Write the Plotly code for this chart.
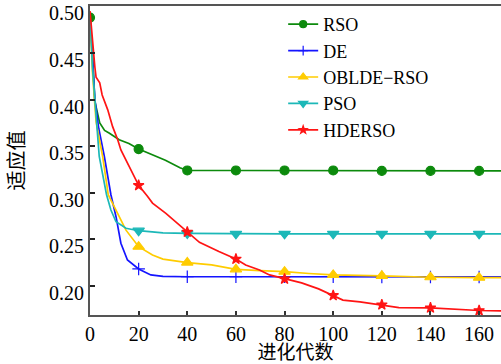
import numpy as np
import plotly.graph_objects as go

# ---- data ----
rso_x = [0, 1, 2, 4, 6, 8, 12, 16, 20, 26, 31, 37, 40, 60, 80, 100, 120, 140, 160, 169]
rso_y = [0.488, 0.45, 0.398, 0.375, 0.367, 0.364, 0.357, 0.353, 0.347, 0.340, 0.335, 0.327,
         0.324, 0.324, 0.324, 0.324, 0.3235, 0.3235, 0.3235, 0.3235]

de_x = [0, 1, 2, 3.6, 5.9, 8.6, 10.7, 12.7, 15.4, 20, 25, 30, 40, 60, 80, 100, 120, 140, 160, 169]
de_y = [0.49, 0.44, 0.40, 0.369, 0.339, 0.298, 0.2744, 0.246, 0.228, 0.2184, 0.212, 0.2105,
        0.210, 0.210, 0.210, 0.210, 0.2098, 0.2098, 0.2098, 0.2098]

obl_x = [0, 1, 2.5, 5.2, 7.5, 10.7, 14.8, 20, 25.7, 30, 40, 50, 60, 70, 80, 90, 100, 120, 140, 160, 169]
obl_y = [0.49, 0.43, 0.376, 0.339, 0.298, 0.2816, 0.260, 0.2423, 0.2334, 0.229, 0.2252, 0.2228,
         0.218, 0.2166, 0.2155, 0.2135, 0.212, 0.211, 0.2095, 0.209, 0.209]

pso_x = [0, 1, 2, 3.8, 6.8, 8.6, 10.7, 14.8, 20, 30, 40, 60, 80, 100, 120, 140, 160, 169]
pso_y = [0.49, 0.435, 0.40, 0.339, 0.298, 0.2816, 0.269, 0.262, 0.2594, 0.257, 0.2565,
         0.256, 0.256, 0.256, 0.256, 0.256, 0.256, 0.256]

hde_x = [0, 1, 2, 2.5, 4, 5, 7.3, 9.3, 11.4, 12.7, 16.2, 20, 23.7, 25.7, 31.2, 35.3, 40, 45, 53,
         60, 64, 69.7, 73.8, 80, 87, 94, 100, 104, 111, 120, 127, 140, 160, 169]
hde_y = [0.495, 0.46, 0.435, 0.424, 0.418, 0.405, 0.389, 0.371, 0.357, 0.346, 0.328, 0.308,
         0.296, 0.289, 0.278, 0.269, 0.258, 0.247, 0.237, 0.229, 0.2227, 0.2173, 0.212, 0.2077,
         0.2034, 0.197, 0.190, 0.185, 0.183, 0.180, 0.177, 0.1767, 0.1738, 0.1735]

x_ticks = [0, 20, 40, 60, 80, 100, 120, 140, 160]
y_ticks = [0.20, 0.25, 0.30, 0.35, 0.40, 0.45, 0.50]
marker_x = [20, 40, 60, 80, 100, 120, 140, 160]
rso_marker_x = [0] + marker_x

names = ["RSO", "DE", "OBLDE\u2212RSO", "PSO", "HDERSO"]
colors = ["#0c8a0c", "#1414ff", "#ffcc00", "#1cb8b8", "#ff1414"]
symbols = ["circle", "cross-thin", "triangle-up", "triangle-down", "star"]
msizes = [9, 9, 10, 10, 8]

series = [
    (rso_x, rso_y, rso_marker_x),
    (de_x, de_y, marker_x),
    (obl_x, obl_y, marker_x),
    (pso_x, pso_y, marker_x),
    (hde_x, hde_y, marker_x),
]

fig = go.Figure()
for (xs, ys, mx), name, c, sym, ms in zip(series, names, colors, symbols, msizes):
    fig.add_trace(go.Scatter(x=xs, y=ys, mode="lines", line=dict(color=c, width=1.7),
                             showlegend=False, hoverinfo="skip"))
    my = np.interp(mx, xs, ys)
    fig.add_trace(go.Scatter(x=mx, y=my, mode="markers", showlegend=False,
                             marker=dict(symbol=sym, size=ms, color=c,
                                         line=dict(color=c, width=1.2))))
    fig.add_trace(go.Scatter(x=[None], y=[None], mode="lines+markers", name=name,
                             line=dict(color=c, width=1.7),
                             marker=dict(symbol=sym, size=ms - 2, color=c,
                                         line=dict(color=c, width=1.2))))

serif = "Liberation Serif"
cjk = "Noto Sans CJK SC"
fig.update_layout(
    width=501, height=364,
    margin=dict(l=90, r=0, t=6, b=49, autoexpand=False),
    paper_bgcolor="white", plot_bgcolor="white",
    font=dict(family=serif, size=20, color="black"),
    legend=dict(x=0.47, y=1.0, xanchor="left", yanchor="top",
                bgcolor="rgba(0,0,0,0)", font=dict(size=18, family=serif),
                tracegroupgap=0),
    showlegend=True,
)
fig.update_xaxes(range=[0, 169], tickvals=x_ticks, automargin=False,
                 tickfont=dict(family=serif, size=20),
                 ticks="inside", ticklen=4, tickwidth=1.5, tickcolor="#333",
                 showline=True, linecolor="#555", linewidth=2, mirror=True,
                 showgrid=False, zeroline=False,
                 title=dict(text="进化代数", font=dict(size=19, family=cjk), standoff=4))
fig.update_yaxes(range=[0.169, 0.5004], tickvals=y_ticks, automargin=False,
                 tickformat=".2f", tickfont=dict(family=serif, size=20),
                 ticks="inside", ticklen=5, tickwidth=2, tickcolor="#222",
                 showline=True, linecolor="#555", linewidth=2, mirror=False,
                 showgrid=False, zeroline=False, ticklabelshift=7,
                 title=dict(text="适应值", font=dict(size=20, family=cjk), standoff=19))

fig.write_html("out.html", config={"displayModeBar": False},
               post_script="document.body.style.margin='0';document.body.style.padding='0';")
